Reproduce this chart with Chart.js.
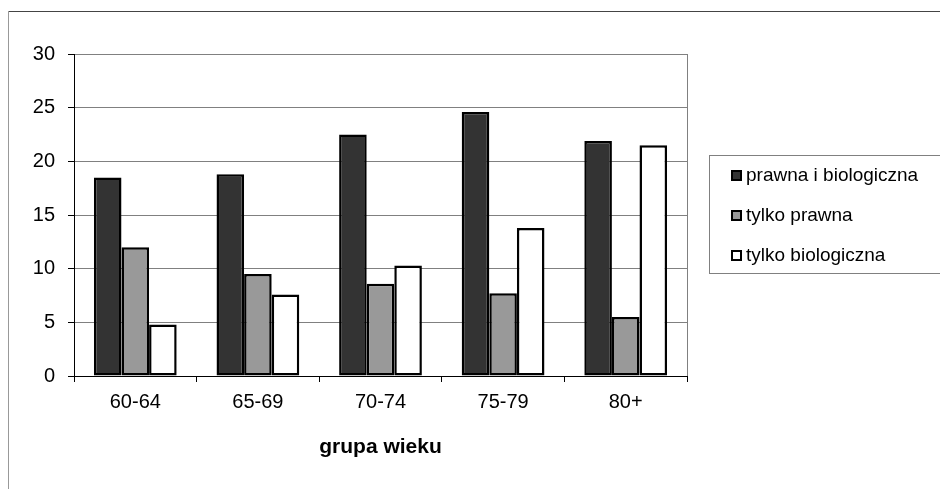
<!DOCTYPE html>
<html lang="pl">
<head>
<meta charset="utf-8">
<title>grupa wieku</title>
<script src="https://cdn.jsdelivr.net/npm/chart.js@4/dist/chart.umd.min.js"></script>
<style>
  html, body { margin: 0; padding: 0; background: #fff; }
  canvas { display: block; }
</style>
</head>
<body>
<canvas id="wykres" width="940" height="489"></canvas>
<script>
// Dane
const kategorie = ['60-64', '65-69', '70-74', '75-79', '80+'];
const nazwySerii = ['prawna i biologiczna', 'tylko prawna', 'tylko biologiczna'];
const prawnaIBiologiczna = [18.5, 18.8, 22.5, 24.6, 21.9];
const tylkoPrawna = [12.0, 9.5, 8.6, 7.7, 5.5];
const tylkoBiologiczna = [4.8, 7.6, 10.3, 13.8, 21.5];
const tytulOsiX = 'grupa wieku';
const osYMin = 0;
const osYMax = 30;
const osYKrok = 5;

const czcionka = '"Liberation Sans", Arial, sans-serif';

// Ramka zewnętrzna, prawa krawędź obszaru i legenda w stylu Excela
const ramka = {
    id: 'ramka',
    afterDraw(chart) {
        const ctx = chart.ctx;
        const a = chart.chartArea;
        ctx.save();

        // prawa krawędź obszaru wykresu
        ctx.strokeStyle = '#808080';
        ctx.lineWidth = 1;
        ctx.beginPath();
        ctx.moveTo(Math.round(a.right) + 0.5, a.top);
        ctx.lineTo(Math.round(a.right) + 0.5, a.bottom);
        ctx.stroke();

        // ramka całego wykresu (widoczna góra i lewa strona)
        ctx.strokeStyle = '#444';
        ctx.beginPath();
        ctx.moveTo(8, 11.5);
        ctx.lineTo(940, 11.5);
        ctx.stroke();
        ctx.strokeStyle = '#999';
        ctx.beginPath();
        ctx.moveTo(8.5, 11);
        ctx.lineTo(8.5, 489);
        ctx.stroke();

        // legenda
        ctx.strokeStyle = '#808080';
        ctx.lineWidth = 1;
        ctx.strokeRect(709.5, 155.5, 240, 118);
        ctx.font = '19px ' + czcionka;
        ctx.textBaseline = 'middle';
        ctx.textAlign = 'left';
        chart.data.datasets.forEach((ds, i) => {
            const y = 175 + i * 40;
            ctx.fillStyle = ds.backgroundColor;
            ctx.fillRect(731, y - 5, 11, 11);
            ctx.strokeStyle = '#000';
            ctx.lineWidth = 2;
            ctx.strokeRect(732, y - 4, 9, 9);
            ctx.fillStyle = '#000';
            ctx.fillText(ds.label, 746, y + 1);
        });
        ctx.restore();
    }
};

const kolory = ['#333333', '#999999', '#ffffff'];
const serie = [prawnaIBiologiczna, tylkoPrawna, tylkoBiologiczna];

new Chart(document.getElementById('wykres'), {
    type: 'bar',
    data: {
        labels: kategorie,
        datasets: serie.map((dane, i) => ({
            label: nazwySerii[i],
            data: dane,
            backgroundColor: kolory[i],
            borderColor: '#000',
            borderWidth: 2.5,
            borderSkipped: false,
            barPercentage: 1.0,
            categoryPercentage: 0.675
        }))
    },
    options: {
        responsive: false,
        animation: false,
        layout: {
            padding: { top: 54, right: 253, bottom: 0, left: 0 }
        },
        plugins: {
            legend: { display: false },
            tooltip: { enabled: false }
        },
        scales: {
            x: {
                afterFit: (scale) => { scale.height = 113; },
                grid: {
                    offset: true,
                    drawOnChartArea: false,
                    drawTicks: true,
                    tickLength: 6,
                    tickColor: '#000'
                },
                border: { color: '#000', width: 1 },
                ticks: {
                    color: '#000',
                    padding: 8,
                    font: { family: czcionka, size: 20 }
                },
                title: {
                    display: true,
                    text: tytulOsiX,
                    color: '#000',
                    padding: { top: 0, bottom: 29 },
                    font: { family: czcionka, size: 21, weight: 'bold' }
                }
            },
            y: {
                min: osYMin,
                max: osYMax,
                afterFit: (scale) => { scale.width = 74; },
                grid: {
                    color: (c) => c.tick && c.tick.value === 0 ? 'rgba(0,0,0,0)' : '#808080',
                    drawTicks: true,
                    tickLength: 6,
                    tickColor: '#000'
                },
                border: { color: '#000', width: 1 },
                ticks: {
                    stepSize: osYKrok,
                    color: '#000',
                    padding: 13,
                    font: { family: czcionka, size: 20 }
                }
            }
        }
    },
    plugins: [ramka]
});
</script>
</body>
</html>
